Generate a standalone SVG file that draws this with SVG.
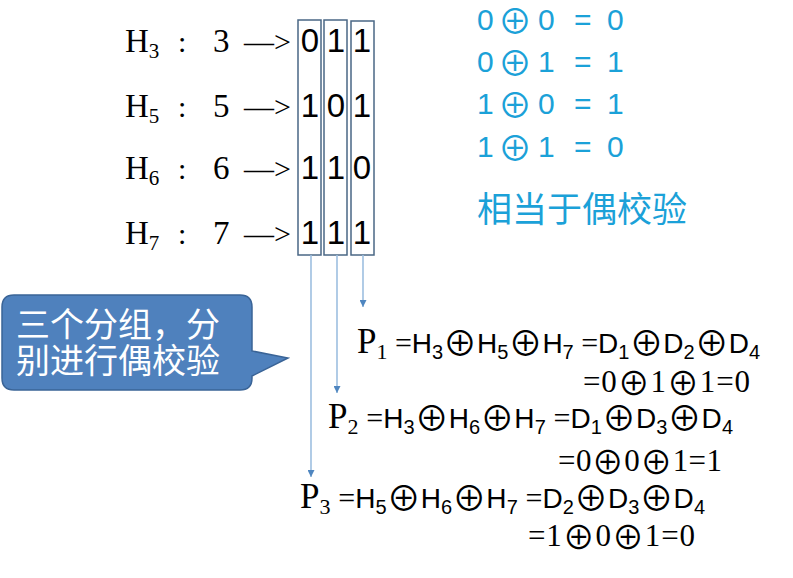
<svg xmlns="http://www.w3.org/2000/svg" width="793" height="578" viewBox="0 0 793 578">
<style>
.serif{font-family:"Liberation Serif","Times New Roman",serif;fill:#000}
.blue{font-family:"Liberation Sans",Arial,sans-serif;fill:#1ba1d8;font-size:30px}
.bop{font-family:"Noto Sans CJK SC",sans-serif;font-size:34px}
.cjk{font-family:"Liberation Sans","Noto Sans CJK SC",sans-serif}
.box{fill:none;stroke:#4a6785;stroke-width:1.5}
.conn{stroke:#9dbfe0;stroke-width:1.6;fill:none}
.dig{font-family:"Liberation Sans",Arial,sans-serif;font-size:33px;text-anchor:middle;fill:#000}
.eq{font-family:"Liberation Sans",Arial,sans-serif;font-size:28px}
.es{font-family:"Liberation Sans",Arial,sans-serif;font-size:20px}
.p{font-family:"Liberation Serif","Times New Roman",serif;font-size:35px}
.ps{font-family:"Liberation Serif","Times New Roman",serif;font-size:22px}
.peq{font-family:"Liberation Serif","Times New Roman",serif;font-size:30px}
.res{font-family:"Liberation Serif","Times New Roman",serif;font-size:31px}
.op{font-family:"Noto Sans CJK SC",sans-serif;font-size:34px}
.rop{font-family:"Noto Sans CJK SC",sans-serif;font-size:32px}
</style>
<defs>
<marker id="ah" viewBox="0 0 10 10" refX="10" refY="5" markerWidth="7" markerHeight="7" markerUnits="userSpaceOnUse" orient="auto">
<path d="M0,0 L10,5 L0,10 Z" fill="#4f86c0"/>
</marker>
</defs>
<rect width="793" height="578" fill="#fff"/>

<g id="rows">
<g id="row-h3" class="serif">
<text x="125" y="52" font-size="33">H<tspan font-size="21" dy="6">3</tspan></text>
<text x="178" y="52" font-size="30">:</text>
<text x="213" y="52" font-size="33">3</text>
<text x="244" y="52" font-size="30">—&gt;</text>
</g>
<g id="row-h5" class="serif">
<text x="125" y="117" font-size="33">H<tspan font-size="21" dy="6">5</tspan></text>
<text x="178" y="117" font-size="30">:</text>
<text x="213" y="117" font-size="33">5</text>
<text x="244" y="117" font-size="30">—&gt;</text>
</g>
<g id="row-h6" class="serif">
<text x="125" y="179" font-size="33">H<tspan font-size="21" dy="6">6</tspan></text>
<text x="178" y="179" font-size="30">:</text>
<text x="213" y="179" font-size="33">6</text>
<text x="244" y="179" font-size="30">—&gt;</text>
</g>
<g id="row-h7" class="serif">
<text x="125" y="244" font-size="33">H<tspan font-size="21" dy="6">7</tspan></text>
<text x="178" y="244" font-size="30">:</text>
<text x="213" y="244" font-size="33">7</text>
<text x="244" y="244" font-size="30">—&gt;</text>
</g>
</g>

<g id="col1">
<rect class="box" x="298" y="20" width="23" height="235"/>
<text class="dig" x="310" y="52">0</text>
<text class="dig" x="310" y="117">1</text>
<text class="dig" x="310" y="179">1</text>
<text class="dig" x="310" y="244">1</text>
</g>
<g id="col2">
<rect class="box" x="324" y="20" width="23" height="235"/>
<text class="dig" x="336" y="52">1</text>
<text class="dig" x="336" y="117">0</text>
<text class="dig" x="336" y="179">1</text>
<text class="dig" x="336" y="244">1</text>
</g>
<g id="col3">
<rect class="box" x="351" y="21" width="23" height="234"/>
<text class="dig" x="362" y="52">1</text>
<text class="dig" x="362" y="117">1</text>
<text class="dig" x="362" y="179">0</text>
<text class="dig" x="362" y="244">1</text>
</g>

<g id="connectors">
<line class="conn" x1="363" y1="255" x2="363" y2="307" marker-end="url(#ah)"/>
<line class="conn" x1="337" y1="255" x2="337" y2="393" marker-end="url(#ah)"/>
<line class="conn" x1="311" y1="255" x2="311" y2="477" marker-end="url(#ah)"/>
</g>

<g id="xor-table" class="blue">
<text y="30"><tspan x="477">0</tspan><tspan x="498" dy="4" class="bop">⊕</tspan><tspan x="538" dy="-4">0</tspan><tspan x="574">=</tspan><tspan x="607">0</tspan></text>
<text y="72"><tspan x="477">0</tspan><tspan x="498" dy="4" class="bop">⊕</tspan><tspan x="538" dy="-4">1</tspan><tspan x="574">=</tspan><tspan x="607">1</tspan></text>
<text y="114"><tspan x="477">1</tspan><tspan x="498" dy="4" class="bop">⊕</tspan><tspan x="538" dy="-4">0</tspan><tspan x="574">=</tspan><tspan x="607">1</tspan></text>
<text y="157"><tspan x="477">1</tspan><tspan x="498" dy="4" class="bop">⊕</tspan><tspan x="538" dy="-4">1</tspan><tspan x="574">=</tspan><tspan x="607">0</tspan></text>
<text class="cjk" x="477" y="222" font-size="35" fill="#1ba1d8">相当于偶校验</text>
</g>

<g id="callout">
<path d="M14,295 H240 Q252,295 252,307 V351 L288,358 L252,376 V378 Q252,390 240,390 H14 Q2,390 2,378 V307 Q2,295 14,295 Z" fill="#4f81bd" stroke="#3a6497" stroke-width="1.5"/>
<text class="cjk" x="16" y="337" font-size="34" fill="#fff">三个分组，分</text>
<text class="cjk" x="16" y="373" font-size="34" fill="#fff">别进行偶校验</text>
</g>

<g id="p1">
<text x="357" y="353" textLength="403" lengthAdjust="spacing"><tspan class="p">P</tspan><tspan class="ps" dy="6">1</tspan><tspan class="peq" dy="-6"> =</tspan><tspan class="eq">H</tspan><tspan class="es" dy="6">3</tspan><tspan class="op" dy="-3">⊕</tspan><tspan class="eq" dy="-3">H</tspan><tspan class="es" dy="6">5</tspan><tspan class="op" dy="-3">⊕</tspan><tspan class="eq" dy="-3">H</tspan><tspan class="es" dy="6">7</tspan><tspan class="peq" dy="-6"> =</tspan><tspan class="eq">D</tspan><tspan class="es" dy="6">1</tspan><tspan class="op" dy="-3">⊕</tspan><tspan class="eq" dy="-3">D</tspan><tspan class="es" dy="6">2</tspan><tspan class="op" dy="-3">⊕</tspan><tspan class="eq" dy="-3">D</tspan><tspan class="es" dy="6">4</tspan></text>
<text x="583" y="392" class="res" textLength="167" lengthAdjust="spacing">=0<tspan class="rop" dy="3">⊕</tspan><tspan dy="-3">1</tspan><tspan class="rop" dy="3">⊕</tspan><tspan dy="-3">1=0</tspan></text>
</g>
<g id="p2">
<text x="328" y="428" textLength="405" lengthAdjust="spacing"><tspan class="p">P</tspan><tspan class="ps" dy="6">2</tspan><tspan class="peq" dy="-6"> =</tspan><tspan class="eq">H</tspan><tspan class="es" dy="6">3</tspan><tspan class="op" dy="-3">⊕</tspan><tspan class="eq" dy="-3">H</tspan><tspan class="es" dy="6">6</tspan><tspan class="op" dy="-3">⊕</tspan><tspan class="eq" dy="-3">H</tspan><tspan class="es" dy="6">7</tspan><tspan class="peq" dy="-6"> =</tspan><tspan class="eq">D</tspan><tspan class="es" dy="6">1</tspan><tspan class="op" dy="-3">⊕</tspan><tspan class="eq" dy="-3">D</tspan><tspan class="es" dy="6">3</tspan><tspan class="op" dy="-3">⊕</tspan><tspan class="eq" dy="-3">D</tspan><tspan class="es" dy="6">4</tspan></text>
<text x="558" y="471" class="res" textLength="164" lengthAdjust="spacing">=0<tspan class="rop" dy="3">⊕</tspan><tspan dy="-3">0</tspan><tspan class="rop" dy="3">⊕</tspan><tspan dy="-3">1=1</tspan></text>
</g>
<g id="p3">
<text x="300" y="508" textLength="405" lengthAdjust="spacing"><tspan class="p">P</tspan><tspan class="ps" dy="6">3</tspan><tspan class="peq" dy="-6"> =</tspan><tspan class="eq">H</tspan><tspan class="es" dy="6">5</tspan><tspan class="op" dy="-3">⊕</tspan><tspan class="eq" dy="-3">H</tspan><tspan class="es" dy="6">6</tspan><tspan class="op" dy="-3">⊕</tspan><tspan class="eq" dy="-3">H</tspan><tspan class="es" dy="6">7</tspan><tspan class="peq" dy="-6"> =</tspan><tspan class="eq">D</tspan><tspan class="es" dy="6">2</tspan><tspan class="op" dy="-3">⊕</tspan><tspan class="eq" dy="-3">D</tspan><tspan class="es" dy="6">3</tspan><tspan class="op" dy="-3">⊕</tspan><tspan class="eq" dy="-3">D</tspan><tspan class="es" dy="6">4</tspan></text>
<text x="528" y="546" class="res" textLength="167" lengthAdjust="spacing">=1<tspan class="rop" dy="3">⊕</tspan><tspan dy="-3">0</tspan><tspan class="rop" dy="3">⊕</tspan><tspan dy="-3">1=0</tspan></text>
</g>
</svg>
